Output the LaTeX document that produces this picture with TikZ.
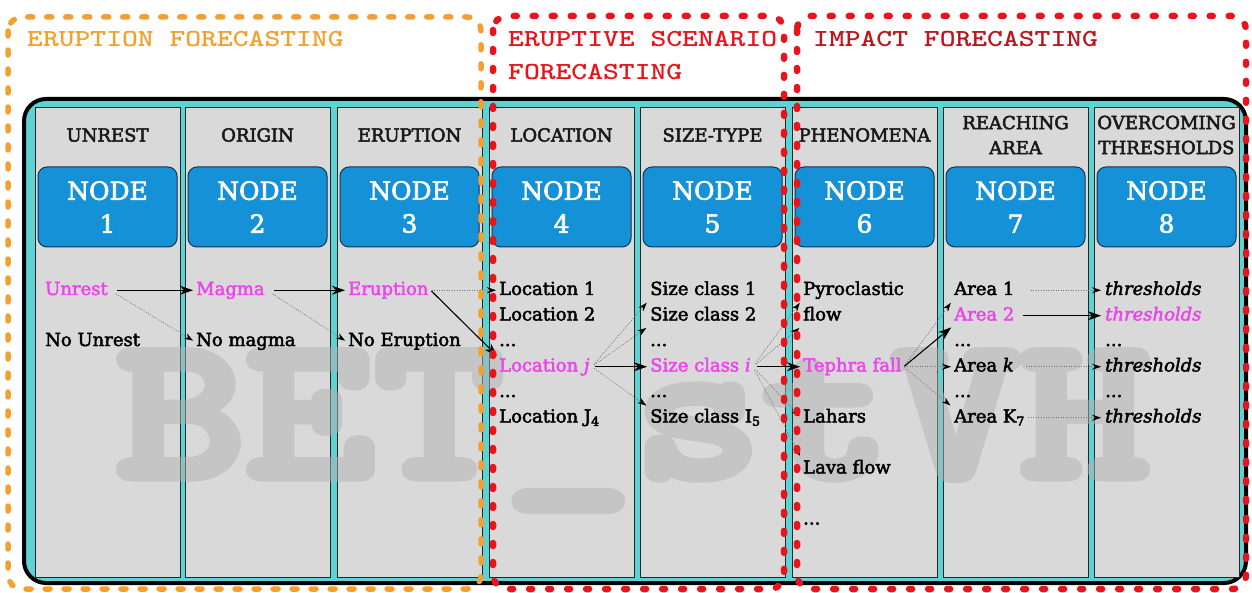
\documentclass[tikz,border=0pt]{standalone}
\usepackage{fontspec}
\setmainfont{DejaVu Serif}
\usetikzlibrary{arrows.meta}
\definecolor{cyanbg}{RGB}{95,210,212}
\definecolor{colgrey}{RGB}{217,217,217}
\definecolor{nodeblue}{RGB}{21,145,216}
\definecolor{nodeedge}{RGB}{25,50,75}
\definecolor{mag}{RGB}{235,70,235}
\definecolor{orng}{RGB}{243,160,48}
\definecolor{redd}{RGB}{232,20,27}
\definecolor{darkred}{RGB}{185,22,30}
\definecolor{wmgrey}{RGB}{178,178,178}
\tikzset{
  heavier/.style={execute at begin node={\special{pdf:code 2 Tr #1 w}}, execute at end node={\special{pdf:code 0 Tr}}},
  colbox/.style={draw=black!85, line width=0.8pt, fill=colgrey},
  nodebox/.style={draw=nodeedge, line width=1pt, fill=nodeblue, rounded corners=9pt},
  hdr/.style={font=\fontsize{18}{25}\selectfont, text=black!90, align=center, inner sep=0pt, heavier=0.5},
  nodetxt/.style={font=\fontsize{25}{33}\selectfont, text=white, align=center, inner sep=0pt, heavier=0.6},
  item/.style={font=\fontsize{18}{22}\selectfont, text=black, anchor=base west, inner sep=2pt, text height=13.5pt, text depth=4pt, heavier=0.45},
  hl/.style={text=mag},
  wmtxt/.style={anchor=base, inner sep=0pt, text=wmgrey},
  solidarr/.style={draw=black, line width=1.1pt, -{Stealth[length=13pt,width=9pt,inset=4pt]}},
  dotarr/.style={draw=black!55, line width=0.7pt, dash pattern=on 1pt off 1.5pt, -{Stealth[length=9pt,width=6pt,inset=3pt,color=black]}},
  titletxt/.style={anchor=base west, inner sep=0pt},
  orangeframe/.style={draw=orng, line width=5.5pt, line cap=round, dash pattern=on 5pt off 14pt, rounded corners=14pt},
  redframe/.style={draw=redd, line width=6.5pt, line cap=round, dash pattern=on 3pt off 16pt, rounded corners=14pt}
}
\newcommand{\ttl}[1]{\scalebox{1.23}[1]{\fontsize{24.5}{30}\selectfont\ttfamily\bfseries #1}}
\newcommand{\wmark}{\scalebox{1.2}[1]{\special{pdf:code 2 Tr 9 w 1 j}\fontsize{205}{205}\selectfont\ttfamily\bfseries BET\_stVH\special{pdf:code 0 Tr}}}
\begin{document}
\begin{tikzpicture}[x=1pt,y=-1pt]
\useasboundingbox (0,0) rectangle (1252,593);
% outer container
\draw[line width=4pt, fill=cyanbg, rounded corners=22pt] (24,99) rectangle (1246,583);
% columns
\foreach \c in {35,185,337,489,640,792,943,1094}{
  \draw[colbox] (\c,107) rectangle ++(145,470);
  \draw[nodebox] (\c+3,167) rectangle ++(139,80);
}
% node labels
\foreach \c/\n in {35/1,185/2,337/3,489/4,640/5,792/6,943/7,1094/8}{
  \node[nodetxt] (nd\n) at (\c+72.5,207) {NODE\\\n};
}
% headers
\node[hdr] (h1) at (107.5,135) {UNREST};
\node[hdr] (h2) at (257.5,135) {ORIGIN};
\node[hdr] (h3) at (409.5,135) {ERUPTION};
\node[hdr] (h4) at (561.5,135) {LOCATION};
\node[hdr] (h5) at (712.5,135) {SIZE-TYPE};
\node[hdr] (h6) at (864.5,135) {PHENOMENA};
\node[hdr] (h7) at (1015.5,135) {REACHING\\AREA};
\node[hdr] (h8) at (1166.5,135) {OVERCOMING\\THRESHOLDS};
% watermark (stroked, semi-transparent)
\begin{scope}[transparency group, opacity=0.5]
  \node[wmtxt] (wm) at (633,477) {\wmark};
\end{scope}
% items
\node[item,hl] (unrest) at (43,295) {Unrest};
\node[item] (nounrest) at (43,346) {No Unrest};
\node[item,hl] (magma) at (194,295) {Magma};
\node[item] (nomagma) at (194,346) {No magma};
\node[item,hl] (erupt) at (346,295) {Eruption};
\node[item] (noerupt) at (346,346) {No Eruption};
\node[item] (loc1) at (497,295) {Location 1};
\node[item] (loc2) at (497,320.5) {Location 2};
\node[item] (locd1) at (497,346) {...};
\node[item,hl] (locj) at (497,371.5) {Location \textit{j}};
\node[item] (locd2) at (497,397) {...};
\node[item] (locJ) at (497,422.5) {Location J\textsubscript{4}};
\node[item] (sc1) at (648,295) {Size class 1};
\node[item] (sc2) at (648,320.5) {Size class 2};
\node[item] (scd1) at (648,346) {...};
\node[item,hl] (sci) at (648,371.5) {Size class \textit{i}};
\node[item] (scd2) at (648,397) {...};
\node[item] (scI) at (648,422.5) {Size class I\textsubscript{5}};
\node[item] (pyro) at (801,295) {Pyroclastic};
\node[item] (flow) at (801,320.5) {flow};
\node[item,hl] (teph) at (801,371.5) {Tephra fall};
\node[item] (lah) at (801,422.5) {Lahars};
\node[item] (lava) at (801,473.5) {Lava flow};
\node[item] (phd) at (801,524.5) {...};
\node[item] (ar1) at (952,295) {Area 1};
\node[item,hl] (ar2) at (952,320.5) {Area 2};
\node[item] (ard1) at (952,346) {...};
\node[item] (ark) at (952,371.5) {Area \textit{k}};
\node[item] (ard2) at (952,397) {...};
\node[item] (arK) at (952,422.5) {Area K\textsubscript{7}};
\node[item] (th1) at (1103,295) {\textit{thresholds}};
\node[item,hl] (th2) at (1103,320.5) {\textit{thresholds}};
\node[item] (thd1) at (1103,346) {...};
\node[item] (th3) at (1103,371.5) {\textit{thresholds}};
\node[item] (thd2) at (1103,397) {...};
\node[item] (th4) at (1103,422.5) {\textit{thresholds}};
% arrows
\draw[solidarr, shorten <=7pt, shorten >=1pt] (unrest.east) -- (magma.west);
\draw[dotarr, shorten <=7pt, shorten >=1pt] (unrest.east) -- (nomagma.west);
\draw[solidarr, shorten <=7pt, shorten >=1pt] (magma.east) -- (erupt.west);
\draw[dotarr, shorten <=7pt, shorten >=1pt] (magma.east) -- (noerupt.west);
\draw[dotarr, shorten <=1pt, shorten >=1pt] (erupt.east) -- (loc1.west);
\draw[solidarr, shorten <=1pt, shorten >=0pt] (erupt.east) -- (locj.north west);
\draw[dotarr, shorten <=3pt, shorten >=2pt] (locj.east) -- (sc1.south west);
\draw[dotarr, shorten <=3pt, shorten >=2pt] (locj.east) -- (sc2.south west);
\draw[solidarr, shorten <=3pt, shorten >=1pt] (locj.east) -- (sci.west);
\draw[dotarr, shorten <=3pt, shorten >=2pt] (locj.east) -- (scI.north west);
\draw[dotarr, shorten <=4pt, shorten >=2pt] (sci.east) -- (pyro.south west);
\draw[dotarr, shorten <=4pt, shorten >=2pt] (sci.east) -- (flow.south west);
\draw[solidarr, shorten <=4pt, shorten >=1pt] (sci.east) -- (teph.west);
\draw[dotarr, shorten <=4pt, shorten >=2pt] (sci.east) -- (lah.west);
\draw[dotarr, shorten <=4pt, shorten >=2pt] (sci.east) -- (lava.north west);
\draw[dotarr, shorten <=1pt, shorten >=2pt] (teph.east) -- (ar1.south west);
\draw[solidarr, shorten <=1pt, shorten >=1pt] (teph.east) -- (ar2.south west);
\draw[dotarr, shorten <=1pt, shorten >=1pt] (teph.east) -- (ark.west);
\draw[dotarr, shorten <=1pt, shorten >=2pt] (teph.east) -- (arK.north west);
\draw[dotarr, shorten <=14pt, shorten >=2pt] (ar1.east) -- (th1.west);
\draw[solidarr, shorten <=6pt, shorten >=2pt] (ar2.east) -- (th2.west);
\draw[dotarr, shorten <=10pt, shorten >=2pt] (ark.east) -- (th3.west);
\draw[dotarr, shorten <=1pt, shorten >=2pt] (arK.east) -- (th4.west);
% frames
\draw[orangeframe] (8,17) rectangle (481,589);
\draw[redframe] (493,16) rectangle (784,589);
\draw[redframe] (797,16) rectangle (1246,589);
% titles
\node[titletxt, text=orng] (t1) at (27,47) {\ttl{ERUPTION FORECASTING}};
\node[titletxt, text=redd] (t2) at (508,47) {\ttl{ERUPTIVE SCENARIO}};
\node[titletxt, text=redd] (t2b) at (508,80) {\ttl{FORECASTING}};
\node[titletxt, text=darkred] (t3) at (813,47) {\ttl{IMPACT FORECASTING}};
\end{tikzpicture}
\end{document}
